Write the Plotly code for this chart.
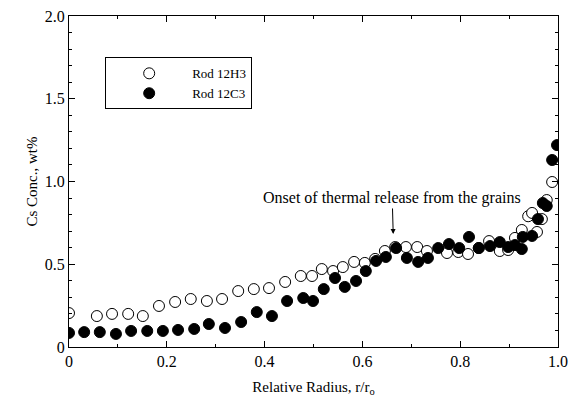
import plotly.graph_objects as go

# Rod 12H3 (open circles)
h3_x = [0.000, 0.057, 0.088, 0.121, 0.151, 0.184, 0.217, 0.249, 0.282, 0.313,
        0.346, 0.378, 0.409, 0.442, 0.474, 0.497, 0.517, 0.540, 0.560, 0.583,
        0.605, 0.626, 0.646, 0.667, 0.689, 0.712, 0.732, 0.773, 0.796, 0.816,
        0.838, 0.859, 0.881, 0.898, 0.912, 0.926, 0.939, 0.947, 0.957, 0.967,
        0.977, 0.988]
h3_y = [0.205, 0.187, 0.200, 0.200, 0.187, 0.248, 0.272, 0.290, 0.278, 0.290,
        0.338, 0.350, 0.356, 0.393, 0.429, 0.429, 0.471, 0.459, 0.483, 0.514,
        0.508, 0.532, 0.580, 0.604, 0.604, 0.604, 0.580, 0.568, 0.574, 0.562,
        0.598, 0.640, 0.580, 0.586, 0.659, 0.707, 0.790, 0.810, 0.695, 0.773,
        0.888, 0.997]

# Rod 12C3 (filled circles)
c3_x = [0.000, 0.031, 0.063, 0.096, 0.127, 0.160, 0.192, 0.223, 0.256, 0.286,
        0.319, 0.352, 0.384, 0.415, 0.446, 0.479, 0.499, 0.521, 0.544, 0.564,
        0.587, 0.607, 0.628, 0.648, 0.669, 0.691, 0.714, 0.734, 0.755, 0.777,
        0.798, 0.818, 0.838, 0.861, 0.881, 0.898, 0.912, 0.926, 0.928, 0.947,
        0.959, 0.969, 0.977, 0.988, 0.998]
c3_y = [0.085, 0.090, 0.090, 0.079, 0.097, 0.097, 0.097, 0.103, 0.109, 0.139,
        0.115, 0.151, 0.211, 0.187, 0.278, 0.296, 0.278, 0.350, 0.417, 0.363,
        0.399, 0.459, 0.520, 0.544, 0.598, 0.538, 0.514, 0.538, 0.598, 0.622,
        0.598, 0.665, 0.598, 0.610, 0.634, 0.604, 0.616, 0.592, 0.665, 0.671,
        0.773, 0.870, 0.852, 1.130, 1.220]

x_tickvals = [0, 0.2, 0.4, 0.6, 0.8, 1.0]
x_ticktext = ["0", "0.2", "0.4", "0.6", "0.8", "1.0"]
y_tickvals = [0, 0.5, 1.0, 1.5, 2.0]
y_ticktext = ["0", "0.5", "1.0", "1.5", "2.0"]

FONT = "Liberation Serif"

fig = go.Figure()
fig.add_trace(go.Scatter(
    x=h3_x, y=h3_y, mode="markers", name="Rod 12H3",
    marker=dict(symbol="circle", size=11, color="white",
                line=dict(color="black", width=1)),
))
fig.add_trace(go.Scatter(
    x=c3_x, y=c3_y, mode="markers", name="Rod 12C3",
    marker=dict(symbol="circle", size=11, color="black",
                line=dict(color="black", width=1)),
))

# annotation: text with arrow pointing down to the onset point
fig.add_annotation(
    x=0.663, y=0.683, xref="x", yref="y",
    ax=-1, ay=-36,
    text="Onset of thermal release from the grains",
    showarrow=True, arrowhead=2, arrowsize=1, arrowwidth=1, arrowcolor="black",
    standoff=0, startstandoff=0,
    font=dict(family=FONT, size=16, color="black"),
)

axis_common = dict(
    showline=True, linecolor="black", linewidth=1, mirror="allticks",
    ticks="inside", ticklen=6, tickcolor="black", showgrid=False, zeroline=False,
    tickfont=dict(family=FONT, size=16, color="black"), automargin=False,
)

fig.update_xaxes(
    range=[0, 1.0], tickvals=x_tickvals, ticktext=x_ticktext,
    minor=dict(ticks="inside", ticklen=3, dtick=0.1, tick0=0, tickcolor="black", showgrid=False),
    title=dict(text="Relative Radius, r/r<sub>o</sub>", font=dict(family=FONT, size=15, color="black"), standoff=12),
    **axis_common,
)
fig.update_yaxes(
    range=[0, 2.0], tickvals=y_tickvals, ticktext=y_ticktext,
    minor=dict(ticks="inside", ticklen=3, dtick=0.1, tick0=0, tickcolor="black", showgrid=False),
    title=dict(text="Cs Conc., wt%", font=dict(family=FONT, size=15, color="black"), standoff=3),
    **axis_common,
)

fig.update_layout(
    width=571, height=404,
    margin=dict(l=69, r=13, t=16, b=57, autoexpand=False),
    paper_bgcolor="white", plot_bgcolor="white",
    showlegend=True,
    legend=dict(
        x=0.074, y=0.875, xanchor="left", yanchor="top",
        bordercolor="black", borderwidth=1, bgcolor="white",
        font=dict(family=FONT, size=13, color="black"),
        itemwidth=76, tracegroupgap=0,
    ),
)

fig.write_html("out.html")
